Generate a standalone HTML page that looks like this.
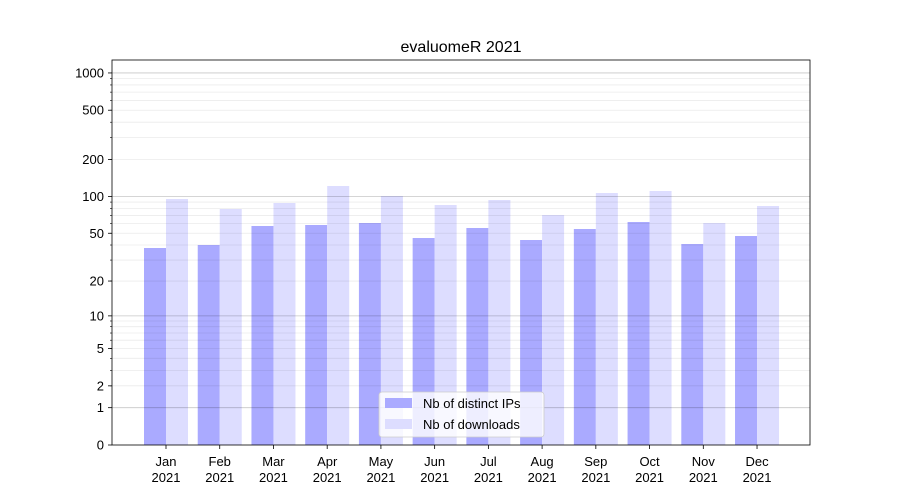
<!DOCTYPE html>
<html><head><meta charset="utf-8"><style>body{margin:0;background:#fff}svg{display:block}text{font-family:"Liberation Sans","DejaVu Sans",sans-serif;fill:#000}</style></head>
<body><svg id="s" width="900" height="500" xmlns="http://www.w3.org/2000/svg"></svg>
<script>
const s=document.getElementById('s');let h='';
const Y=v=>445-124*Math.log10(1+v);
const ip=[248,245,226,225,223,238,228,240,229,222,244,236];
const dl=[199,209,203,186,196,205,200,215,193,191,223,206];
const m=['Jan','Feb','Mar','Apr','May','Jun','Jul','Aug','Sep','Oct','Nov','Dec'];
for(let i=0;i<12;i++){const c=166+i*53.73;
h+=`<rect x="${c-22}" y="${ip[i]}" width="22" height="${445-ip[i]}" fill="#aaaaff"/>`;
h+=`<rect x="${c}" y="${dl[i]}" width="22" height="${445-dl[i]}" fill="#ddddff"/>`;
h+=`<line x1="${c}" x2="${c}" y1="445" y2="449" stroke="#000" stroke-width="0.8"/>`;
h+=`<text x="${c}" y="466" font-size="13" text-anchor="middle">${m[i]}</text><text x="${c}" y="482" font-size="13" text-anchor="middle">2021</text>`;}
// grid on top, semi-transparent
for(const d of [1,10,100]){for(let k=2;k<=9;k++){const y=Y(k*d);h+=`<line x1="112" x2="810" y1="${y}" y2="${y}" stroke="#000" stroke-opacity="0.08" stroke-width="0.8"/>`;}}
for(const v of [1,10,100,1000]){const y=Y(v);h+=`<line x1="112" x2="810" y1="${y}" y2="${y}" stroke="#000" stroke-opacity="0.22" stroke-width="0.8"/>`;}
for(const v of [0,1,2,5,10,20,50,100,200,500,1000]){const y=Y(v);
h+=`<line x1="108" x2="112" y1="${y}" y2="${y}" stroke="#000" stroke-width="0.8"/><text x="104" y="${y+4.5}" font-size="13" text-anchor="end">${v}</text>`;}
for(const d of [1,10,100]){for(let k=2;k<=9;k++){const y=Y(k*d);h+=`<line x1="110" x2="112" y1="${y}" y2="${y}" stroke="#000" stroke-width="0.6"/>`;}}
h+=`<rect x="112" y="60" width="698" height="385" fill="none" stroke="#000" stroke-width="0.8"/>`;
h+=`<text x="461" y="52" font-size="16" text-anchor="middle">evaluomeR 2021</text>`;
h+=`<rect x="379" y="392" width="165" height="45" rx="3" fill="#fff" fill-opacity="0.8" stroke="#ccc" stroke-width="0.8"/>`;
h+=`<rect x="385" y="398" width="27" height="10" fill="#aaaaff"/><text x="423" y="408" font-size="13">Nb of distinct IPs</text>`;
h+=`<rect x="385" y="419" width="27" height="10" fill="#ddddff"/><text x="423" y="429" font-size="13">Nb of downloads</text>`;
s.innerHTML=h;
</script></body></html>
